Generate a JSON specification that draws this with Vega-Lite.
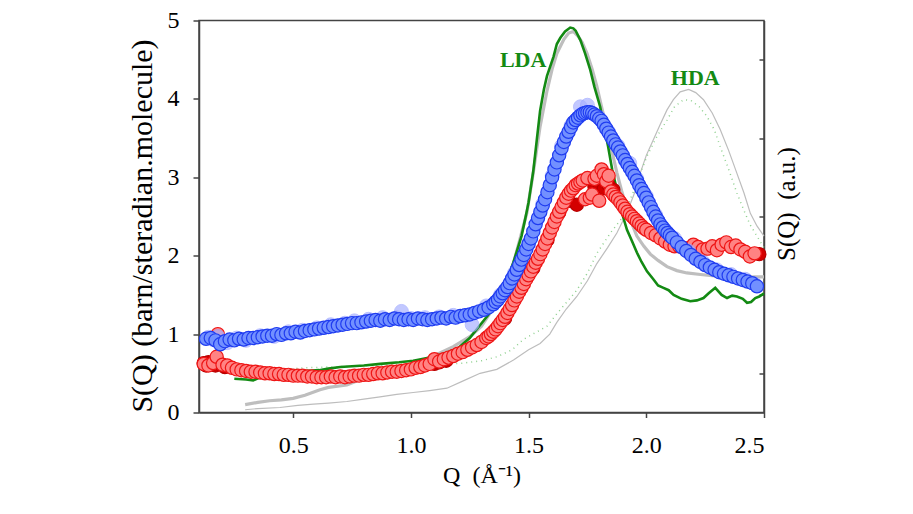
{
  "$schema": "https://vega.github.io/schema/vega-lite/v6.json",
  "width": 565,
  "height": 392,
  "autosize": {"type": "none"},
  "padding": {"left": 199, "top": 20.5, "right": 149, "bottom": 101.5},
  "background": "white",
  "config": {
    "view": {"stroke": "#444444", "strokeWidth": 1.5},
    "axis": {
      "grid": false,
      "domainColor": "#444444",
      "domainWidth": 1.5,
      "tickColor": "#444444",
      "tickWidth": 1.5,
      "labelFont": "Liberation Serif",
      "labelFontSize": 24,
      "labelColor": "#000000",
      "titleFont": "Liberation Serif",
      "titleFontWeight": "normal",
      "titleColor": "#000000"
    }
  },
  "datasets": {
    "blue": [
      {"q":0.13,"s":0.94},{"q":0.15,"s":0.95},{"q":0.17,"s":0.92},{"q":0.19,"s":0.87},{"q":0.21,"s":0.91},{"q":0.23,"s":0.93},{"q":0.25,"s":0.92},{"q":0.27,"s":0.94},{"q":0.29,"s":0.93},{"q":0.31,"s":0.95},
      {"q":0.33,"s":0.95},{"q":0.35,"s":0.96},{"q":0.37,"s":0.97},{"q":0.39,"s":0.98},{"q":0.41,"s":0.98},{"q":0.43,"s":1.00},{"q":0.45,"s":0.99},{"q":0.47,"s":1.01},{"q":0.49,"s":1.01},{"q":0.51,"s":1.03},
      {"q":0.53,"s":1.02},{"q":0.55,"s":1.04},{"q":0.57,"s":1.05},{"q":0.59,"s":1.06},{"q":0.61,"s":1.07},{"q":0.63,"s":1.08},{"q":0.65,"s":1.09},{"q":0.67,"s":1.10},{"q":0.69,"s":1.11},{"q":0.71,"s":1.12},
      {"q":0.73,"s":1.13},{"q":0.75,"s":1.14},{"q":0.77,"s":1.14},{"q":0.79,"s":1.15},{"q":0.81,"s":1.16},{"q":0.83,"s":1.17},{"q":0.85,"s":1.18},{"q":0.87,"s":1.17},{"q":0.89,"s":1.19},{"q":0.91,"s":1.18},
      {"q":0.93,"s":1.20},{"q":0.95,"s":1.19},{"q":0.97,"s":1.18},{"q":0.99,"s":1.19},{"q":1.01,"s":1.18},{"q":1.03,"s":1.20},{"q":1.05,"s":1.19},{"q":1.07,"s":1.18},{"q":1.09,"s":1.19},{"q":1.11,"s":1.20},
      {"q":1.13,"s":1.21},{"q":1.15,"s":1.20},{"q":1.17,"s":1.22},{"q":1.19,"s":1.21},{"q":1.21,"s":1.23},{"q":1.23,"s":1.24},{"q":1.25,"s":1.25},{"q":1.27,"s":1.27},{"q":1.29,"s":1.29},{"q":1.31,"s":1.31},
      {"q":1.33,"s":1.34},{"q":1.35,"s":1.38},{"q":1.36,"s":1.41},{"q":1.37,"s":1.44},{"q":1.38,"s":1.48},{"q":1.39,"s":1.52},{"q":1.40,"s":1.56},{"q":1.41,"s":1.60},{"q":1.42,"s":1.65},{"q":1.43,"s":1.71},
      {"q":1.44,"s":1.76},{"q":1.45,"s":1.82},{"q":1.46,"s":1.88},{"q":1.47,"s":1.95},{"q":1.48,"s":2.01},{"q":1.49,"s":2.08},{"q":1.50,"s":2.15},{"q":1.51,"s":2.22},{"q":1.52,"s":2.31},{"q":1.53,"s":2.40},
      {"q":1.54,"s":2.48},{"q":1.55,"s":2.56},{"q":1.56,"s":2.64},{"q":1.57,"s":2.72},{"q":1.58,"s":2.81},{"q":1.59,"s":2.90},{"q":1.60,"s":3.00},{"q":1.61,"s":3.10},{"q":1.62,"s":3.19},{"q":1.63,"s":3.28},
      {"q":1.64,"s":3.37},{"q":1.65,"s":3.45},{"q":1.66,"s":3.52},{"q":1.67,"s":3.58},{"q":1.68,"s":3.64},{"q":1.69,"s":3.70},{"q":1.70,"s":3.73},{"q":1.71,"s":3.76},{"q":1.72,"s":3.79},{"q":1.73,"s":3.81},
      {"q":1.74,"s":3.82},{"q":1.75,"s":3.83},{"q":1.76,"s":3.83},{"q":1.77,"s":3.82},{"q":1.78,"s":3.80},{"q":1.79,"s":3.78},{"q":1.80,"s":3.75},{"q":1.81,"s":3.72},{"q":1.82,"s":3.67},{"q":1.83,"s":3.62},
      {"q":1.84,"s":3.57},{"q":1.85,"s":3.52},{"q":1.86,"s":3.47},{"q":1.87,"s":3.42},{"q":1.88,"s":3.38},{"q":1.89,"s":3.33},{"q":1.90,"s":3.28},{"q":1.91,"s":3.22},{"q":1.92,"s":3.17},{"q":1.93,"s":3.12},
      {"q":1.94,"s":3.07},{"q":1.95,"s":3.02},{"q":1.96,"s":2.96},{"q":1.97,"s":2.90},{"q":1.98,"s":2.85},{"q":1.99,"s":2.80},{"q":2.00,"s":2.74},{"q":2.01,"s":2.68},{"q":2.02,"s":2.62},{"q":2.03,"s":2.56},
      {"q":2.04,"s":2.50},{"q":2.05,"s":2.45},{"q":2.06,"s":2.40},{"q":2.07,"s":2.36},{"q":2.08,"s":2.32},{"q":2.09,"s":2.29},{"q":2.10,"s":2.26},{"q":2.11,"s":2.23},
      {"q":2.13,"s":2.17},{"q":2.15,"s":2.11},{"q":2.17,"s":2.06},{"q":2.19,"s":2.01},{"q":2.21,"s":1.96},{"q":2.23,"s":1.92},{"q":2.25,"s":1.88},{"q":2.27,"s":1.85},{"q":2.29,"s":1.82},{"q":2.31,"s":1.79},
      {"q":2.33,"s":1.77},{"q":2.35,"s":1.75},{"q":2.37,"s":1.73},{"q":2.39,"s":1.71},{"q":2.41,"s":1.69},{"q":2.43,"s":1.67},{"q":2.45,"s":1.65},{"q":2.47,"s":1.61}
    ],
    "blueHalo": [
      {"q":0.14,"s":0.96},{"q":0.16,"s":0.93},{"q":0.18,"s":0.97},{"q":0.22,"s":0.89},{"q":0.26,"s":0.95},{"q":0.30,"s":0.92},{"q":0.36,"s":0.98},{"q":0.42,"s":0.97},{"q":0.48,"s":1.03},{"q":0.54,"s":1.05},
      {"q":0.60,"s":1.08},{"q":0.66,"s":1.12},{"q":0.72,"s":1.14},{"q":0.76,"s":1.17},{"q":0.82,"s":1.19},{"q":0.88,"s":1.21},{"q":0.94,"s":1.21},{"q":0.96,"s":1.29},{"q":1.00,"s":1.20},{"q":1.06,"s":1.21},
      {"q":1.12,"s":1.22},{"q":1.18,"s":1.24},{"q":1.26,"s":1.12},{"q":1.32,"s":1.36},{"q":1.38,"s":1.50},{"q":1.44,"s":1.78},{"q":1.50,"s":2.16},{"q":1.56,"s":2.66},{"q":1.60,"s":3.02},{"q":1.64,"s":3.40},
      {"q":1.68,"s":3.66},{"q":1.72,"s":3.90},{"q":1.75,"s":3.92},{"q":1.80,"s":3.76},{"q":1.84,"s":3.58},{"q":1.88,"s":3.40},{"q":1.93,"s":3.18},{"q":1.96,"s":2.98},{"q":2.00,"s":2.76},{"q":2.04,"s":2.52},
      {"q":2.08,"s":2.33},{"q":2.12,"s":2.22},{"q":2.18,"s":2.06},{"q":2.24,"s":1.92},{"q":2.30,"s":1.82},{"q":2.36,"s":1.76},{"q":2.42,"s":1.70},{"q":2.46,"s":1.64}
    ],
    "red": [
      {"q":0.12,"s":0.62},{"q":0.14,"s":0.60},{"q":0.16,"s":0.63},{"q":0.175,"s":0.71},{"q":0.18,"s":1.00},{"q":0.20,"s":0.61},{"q":0.22,"s":0.60},{"q":0.24,"s":0.57},{"q":0.26,"s":0.55},{"q":0.28,"s":0.54},
      {"q":0.30,"s":0.53},{"q":0.32,"s":0.52},{"q":0.34,"s":0.52},{"q":0.36,"s":0.51},{"q":0.38,"s":0.50},{"q":0.40,"s":0.50},{"q":0.42,"s":0.49},{"q":0.44,"s":0.49},{"q":0.46,"s":0.48},{"q":0.48,"s":0.48},
      {"q":0.50,"s":0.47},{"q":0.52,"s":0.47},{"q":0.54,"s":0.47},{"q":0.56,"s":0.46},{"q":0.58,"s":0.46},{"q":0.60,"s":0.45},{"q":0.62,"s":0.45},{"q":0.64,"s":0.45},{"q":0.66,"s":0.46},{"q":0.68,"s":0.45},
      {"q":0.70,"s":0.46},{"q":0.72,"s":0.45},{"q":0.74,"s":0.46},{"q":0.76,"s":0.47},{"q":0.78,"s":0.47},{"q":0.80,"s":0.48},{"q":0.82,"s":0.48},{"q":0.84,"s":0.49},{"q":0.86,"s":0.50},{"q":0.88,"s":0.50},
      {"q":0.90,"s":0.51},{"q":0.92,"s":0.52},{"q":0.94,"s":0.52},{"q":0.96,"s":0.53},{"q":0.98,"s":0.54},{"q":1.00,"s":0.55},{"q":1.02,"s":0.57},{"q":1.04,"s":0.58},{"q":1.06,"s":0.60},{"q":1.08,"s":0.62},
      {"q":1.10,"s":0.68},{"q":1.12,"s":0.65},{"q":1.14,"s":0.68},{"q":1.16,"s":0.70},{"q":1.18,"s":0.72},{"q":1.20,"s":0.75},{"q":1.22,"s":0.77},{"q":1.24,"s":0.80},{"q":1.26,"s":0.83},{"q":1.28,"s":0.86},
      {"q":1.30,"s":0.90},{"q":1.32,"s":0.95},{"q":1.33,"s":0.97},{"q":1.34,"s":1.00},{"q":1.35,"s":1.03},{"q":1.36,"s":1.06},{"q":1.37,"s":1.10},{"q":1.38,"s":1.14},{"q":1.39,"s":1.18},{"q":1.40,"s":1.22},
      {"q":1.41,"s":1.27},{"q":1.42,"s":1.32},{"q":1.43,"s":1.37},{"q":1.44,"s":1.43},{"q":1.45,"s":1.48},{"q":1.46,"s":1.54},{"q":1.47,"s":1.59},{"q":1.48,"s":1.64},{"q":1.49,"s":1.70},{"q":1.50,"s":1.75},
      {"q":1.51,"s":1.80},{"q":1.52,"s":1.86},{"q":1.53,"s":1.91},{"q":1.54,"s":1.96},{"q":1.55,"s":2.02},{"q":1.56,"s":2.08},{"q":1.57,"s":2.15},{"q":1.58,"s":2.22},{"q":1.59,"s":2.29},{"q":1.60,"s":2.36},
      {"q":1.61,"s":2.43},{"q":1.62,"s":2.50},{"q":1.63,"s":2.56},{"q":1.64,"s":2.62},{"q":1.65,"s":2.68},{"q":1.66,"s":2.74},{"q":1.67,"s":2.79},{"q":1.68,"s":2.83},{"q":1.69,"s":2.86},{"q":1.70,"s":2.90},
      {"q":1.71,"s":2.92},{"q":1.72,"s":2.94},{"q":1.73,"s":2.96},{"q":1.74,"s":2.72},{"q":1.75,"s":2.99},{"q":1.76,"s":2.74},{"q":1.77,"s":2.78},{"q":1.78,"s":2.98},{"q":1.79,"s":3.02},{"q":1.80,"s":2.70},
      {"q":1.81,"s":3.10},{"q":1.82,"s":3.04},{"q":1.83,"s":2.95},{"q":1.84,"s":3.02},{"q":1.85,"s":2.82},{"q":1.86,"s":2.78},{"q":1.87,"s":2.75},{"q":1.88,"s":2.72},{"q":1.89,"s":2.68},{"q":1.90,"s":2.64},
      {"q":1.91,"s":2.60},{"q":1.92,"s":2.56},{"q":1.93,"s":2.53},{"q":1.94,"s":2.50},{"q":1.95,"s":2.47},{"q":1.96,"s":2.44},{"q":1.97,"s":2.41},{"q":1.98,"s":2.38},{"q":1.99,"s":2.35},{"q":2.00,"s":2.33},
      {"q":2.02,"s":2.29},{"q":2.04,"s":2.26},{"q":2.06,"s":2.22},{"q":2.08,"s":2.18},{"q":2.10,"s":2.14},{"q":2.12,"s":2.12},{"q":2.14,"s":2.12},{"q":2.16,"s":2.10},{"q":2.18,"s":2.09},{"q":2.20,"s":2.14},
      {"q":2.22,"s":2.11},{"q":2.24,"s":2.08},{"q":2.26,"s":2.09},{"q":2.28,"s":2.12},{"q":2.30,"s":2.07},{"q":2.32,"s":2.14},{"q":2.34,"s":2.17},{"q":2.36,"s":2.11},{"q":2.38,"s":2.13},{"q":2.40,"s":2.08},
      {"q":2.42,"s":2.05},{"q":2.44,"s":1.99},{"q":2.46,"s":2.03}
    ],
    "redDark": [
      {"q":0.12,"s":0.63},{"q":0.13,"s":0.60},{"q":0.14,"s":0.64},{"q":0.15,"s":0.61},{"q":0.17,"s":0.60},{"q":0.19,"s":0.62},{"q":0.21,"s":0.58},{"q":1.10,"s":0.62},{"q":1.12,"s":0.64},{"q":1.15,"s":0.66},
      {"q":1.40,"s":1.20},{"q":1.45,"s":1.50},{"q":1.52,"s":1.84},{"q":1.58,"s":2.20},{"q":1.63,"s":2.55},{"q":1.67,"s":2.70},{"q":1.705,"s":2.65},{"q":1.78,"s":2.88},{"q":1.80,"s":2.92},{"q":1.82,"s":2.86},
      {"q":1.84,"s":2.90},{"q":1.86,"s":2.84},{"q":2.48,"s":2.02}
    ],
    "lda": [
      {"q":0.25,"s":0.43},{"q":0.30,"s":0.42},{"q":0.33,"s":0.41},{"q":0.36,"s":0.45},{"q":0.40,"s":0.47},{"q":0.45,"s":0.50},{"q":0.50,"s":0.52},{"q":0.55,"s":0.53},{"q":0.61,"s":0.54},{"q":0.65,"s":0.56},
      {"q":0.70,"s":0.58},{"q":0.75,"s":0.59},{"q":0.80,"s":0.60},{"q":0.87,"s":0.62},{"q":0.95,"s":0.64},{"q":1.01,"s":0.66},{"q":1.08,"s":0.70},{"q":1.15,"s":0.76},{"q":1.20,"s":0.82},{"q":1.25,"s":0.95},
      {"q":1.29,"s":1.10},{"q":1.33,"s":1.25},{"q":1.365,"s":1.40},{"q":1.40,"s":1.62},{"q":1.435,"s":1.91},{"q":1.47,"s":2.25},{"q":1.485,"s":2.46},{"q":1.50,"s":2.68},{"q":1.52,"s":3.08},{"q":1.535,"s":3.48},
      {"q":1.549,"s":3.85},{"q":1.565,"s":4.12},{"q":1.578,"s":4.29},{"q":1.606,"s":4.54},{"q":1.62,"s":4.70},{"q":1.635,"s":4.78},{"q":1.655,"s":4.86},{"q":1.677,"s":4.91},{"q":1.69,"s":4.90},{"q":1.70,"s":4.87},
      {"q":1.72,"s":4.75},{"q":1.74,"s":4.58},{"q":1.762,"s":4.37},{"q":1.78,"s":4.15},{"q":1.804,"s":3.90},{"q":1.82,"s":3.66},{"q":1.838,"s":3.39},{"q":1.855,"s":3.10},{"q":1.875,"s":2.84},{"q":1.895,"s":2.56},
      {"q":1.918,"s":2.33},{"q":1.94,"s":2.18},{"q":1.96,"s":2.04},{"q":1.98,"s":1.92},{"q":2.003,"s":1.80},{"q":2.03,"s":1.70},{"q":2.05,"s":1.62},{"q":2.073,"s":1.59},{"q":2.095,"s":1.56},{"q":2.116,"s":1.50},
      {"q":2.15,"s":1.45},{"q":2.187,"s":1.42},{"q":2.215,"s":1.43},{"q":2.243,"s":1.46},{"q":2.265,"s":1.52},{"q":2.293,"s":1.59},{"q":2.32,"s":1.50},{"q":2.343,"s":1.46},{"q":2.365,"s":1.49},{"q":2.385,"s":1.48},
      {"q":2.41,"s":1.45},{"q":2.428,"s":1.40},{"q":2.445,"s":1.41},{"q":2.463,"s":1.46},{"q":2.48,"s":1.48},{"q":2.50,"s":1.52}
    ],
    "ldaFit": [
      {"q":0.296,"s":0.10},{"q":0.35,"s":0.13},{"q":0.40,"s":0.15},{"q":0.45,"s":0.16},{"q":0.50,"s":0.18},{"q":0.55,"s":0.22},{"q":0.614,"s":0.29},{"q":0.65,"s":0.32},{"q":0.728,"s":0.35},{"q":0.77,"s":0.40},
      {"q":0.813,"s":0.46},{"q":0.87,"s":0.52},{"q":0.95,"s":0.58},{"q":1.03,"s":0.64},{"q":1.11,"s":0.74},{"q":1.18,"s":0.84},{"q":1.252,"s":0.97},{"q":1.30,"s":1.10},{"q":1.337,"s":1.27},{"q":1.37,"s":1.42},
      {"q":1.408,"s":1.65},{"q":1.44,"s":1.95},{"q":1.464,"s":2.22},{"q":1.493,"s":2.55},{"q":1.52,"s":3.06},{"q":1.549,"s":3.65},{"q":1.578,"s":4.10},{"q":1.60,"s":4.38},{"q":1.62,"s":4.58},{"q":1.65,"s":4.76},
      {"q":1.67,"s":4.84},{"q":1.69,"s":4.86},{"q":1.71,"s":4.80},{"q":1.728,"s":4.72},{"q":1.748,"s":4.58},{"q":1.77,"s":4.38},{"q":1.79,"s":4.16},{"q":1.81,"s":3.90},{"q":1.833,"s":3.61},{"q":1.855,"s":3.32},
      {"q":1.875,"s":3.06},{"q":1.895,"s":2.83},{"q":1.918,"s":2.60},{"q":1.94,"s":2.40},{"q":1.96,"s":2.25},{"q":1.99,"s":2.12},{"q":2.017,"s":2.02},{"q":2.05,"s":1.94},{"q":2.088,"s":1.86},{"q":2.13,"s":1.81},
      {"q":2.172,"s":1.78},{"q":2.23,"s":1.76},{"q":2.30,"s":1.74},{"q":2.40,"s":1.73},{"q":2.50,"s":1.73}
    ],
    "hda": [
      {"q":0.296,"s":0.035},{"q":0.35,"s":0.05},{"q":0.444,"s":0.064},{"q":0.52,"s":0.09},{"q":0.586,"s":0.107},{"q":0.65,"s":0.12},{"q":0.728,"s":0.14},{"q":0.80,"s":0.17},{"q":0.869,"s":0.20},{"q":0.94,"s":0.23},
      {"q":1.01,"s":0.255},{"q":1.08,"s":0.28},{"q":1.153,"s":0.31},{"q":1.22,"s":0.40},{"q":1.294,"s":0.50},{"q":1.365,"s":0.55},{"q":1.436,"s":0.67},{"q":1.50,"s":0.80},{"q":1.549,"s":0.88},{"q":1.59,"s":1.00},
      {"q":1.62,"s":1.15},{"q":1.66,"s":1.32},{"q":1.705,"s":1.48},{"q":1.75,"s":1.68},{"q":1.79,"s":1.90},{"q":1.835,"s":2.10},{"q":1.875,"s":2.29},{"q":1.918,"s":2.55},{"q":1.95,"s":2.80},{"q":1.974,"s":3.05},
      {"q":2.00,"s":3.28},{"q":2.03,"s":3.48},{"q":2.06,"s":3.68},{"q":2.088,"s":3.86},{"q":2.115,"s":3.99},{"q":2.144,"s":4.09},{"q":2.18,"s":4.12},{"q":2.21,"s":4.08},{"q":2.243,"s":3.99},{"q":2.28,"s":3.82},
      {"q":2.314,"s":3.61},{"q":2.35,"s":3.34},{"q":2.385,"s":3.05},{"q":2.415,"s":2.80},{"q":2.442,"s":2.54},{"q":2.47,"s":2.38},{"q":2.50,"s":2.25}
    ],
    "hdaDotted": [
      {"q":0.45,"s":0.55},{"q":0.55,"s":0.57},{"q":0.65,"s":0.58},{"q":0.75,"s":0.59},{"q":0.85,"s":0.60},{"q":0.95,"s":0.61},{"q":1.05,"s":0.62},{"q":1.15,"s":0.62},{"q":1.222,"s":0.63},{"q":1.30,"s":0.66},
      {"q":1.365,"s":0.71},{"q":1.43,"s":0.80},{"q":1.477,"s":0.93},{"q":1.53,"s":1.02},{"q":1.578,"s":1.10},{"q":1.62,"s":1.26},{"q":1.66,"s":1.40},{"q":1.705,"s":1.56},{"q":1.75,"s":1.78},{"q":1.79,"s":2.03},
      {"q":1.85,"s":2.30},{"q":1.902,"s":2.50},{"q":1.95,"s":2.85},{"q":2.003,"s":3.27},{"q":2.045,"s":3.52},{"q":2.088,"s":3.73},{"q":2.12,"s":3.90},{"q":2.158,"s":3.99},{"q":2.19,"s":3.98},{"q":2.225,"s":3.90},
      {"q":2.257,"s":3.78},{"q":2.29,"s":3.60},{"q":2.314,"s":3.39},{"q":2.35,"s":3.10},{"q":2.385,"s":2.80},{"q":2.413,"s":2.59},{"q":2.44,"s":2.40},{"q":2.47,"s":2.25},{"q":2.50,"s":2.10}
    ],
    "labels": [
      {"q":1.477,"s":4.49,"label":"LDA"},
      {"q":2.208,"s":4.27,"label":"HDA"}
    ]
  },
  "layer": [
    {
      "layer": [
        {
          "data": {"name": "hda"},
          "mark": {"type": "line", "color": "#BDBDBD", "strokeWidth": 1.2},
          "encoding": {
            "x": {"field": "q", "type": "quantitative"},
            "y": {"field": "s", "type": "quantitative"}
          }
        },
        {
          "data": {"name": "hdaDotted"},
          "mark": {"type": "line", "color": "#8FD08F", "strokeWidth": 1.5, "strokeDash": [1, 4]},
          "encoding": {
            "x": {"field": "q", "type": "quantitative"},
            "y": {"field": "s", "type": "quantitative"}
          }
        }
      ],
      "encoding": {
        "x": {"field": "q", "type": "quantitative", "scale": {"domain": [0.1, 2.5], "nice": false}, "axis": null},
        "y": {
          "field": "s", "type": "quantitative",
          "scale": {"domain": [0, 5], "nice": false},
          "axis": {
            "orient": "right",
            "values": [0.5, 1.5, 2.5, 3.5, 4.5],
            "labels": false,
            "tickSize": -5,
            "title": "S(Q)\u00a0\u00a0(a.u.)",
            "titleFontSize": 25,
            "titleAngle": -90,
            "titleBaseline": "top",
            "titlePadding": 10,
            "titleY": 183
          }
        }
      }
    },
    {
      "layer": [
        {
          "data": {"name": "ldaFit"},
          "mark": {"type": "line", "color": "#BEBEBE", "strokeWidth": 3.2},
          "encoding": {
            "x": {"field": "q", "type": "quantitative"},
            "y": {"field": "s", "type": "quantitative"}
          }
        },
        {
          "data": {"name": "lda"},
          "mark": {"type": "line", "color": "#138A13", "strokeWidth": 2.6},
          "encoding": {
            "x": {"field": "q", "type": "quantitative"},
            "y": {"field": "s", "type": "quantitative"}
          }
        },
        {
          "data": {"name": "redDark"},
          "mark": {"type": "point", "shape": "circle", "filled": true, "size": 175, "fill": "#D40000", "stroke": "#B80000", "strokeWidth": 1.2, "opacity": 1},
          "encoding": {
            "x": {"field": "q", "type": "quantitative"},
            "y": {"field": "s", "type": "quantitative"}
          }
        },
        {
          "data": {"name": "red"},
          "mark": {"type": "point", "shape": "circle", "filled": true, "size": 175, "fill": "#FF8383", "stroke": "#EE1515", "strokeWidth": 1.2, "opacity": 1},
          "encoding": {
            "x": {"field": "q", "type": "quantitative"},
            "y": {"field": "s", "type": "quantitative"}
          }
        },
        {
          "data": {"name": "blueHalo"},
          "mark": {"type": "point", "shape": "circle", "filled": true, "size": 190, "fill": "#A9B2FF", "stroke": "#9CA6FF", "strokeWidth": 1, "opacity": 0.7},
          "encoding": {
            "x": {"field": "q", "type": "quantitative"},
            "y": {"field": "s", "type": "quantitative"}
          }
        },
        {
          "data": {"name": "blue"},
          "mark": {"type": "point", "shape": "circle", "filled": true, "size": 175, "fill": "#7290FF", "stroke": "#1F3CF0", "strokeWidth": 1.2, "opacity": 1},
          "encoding": {
            "x": {"field": "q", "type": "quantitative"},
            "y": {"field": "s", "type": "quantitative"}
          }
        },
        {
          "data": {"name": "labels"},
          "mark": {"type": "text", "font": "Liberation Serif", "fontWeight": "bold", "fontSize": 22, "color": "#138A13", "align": "center", "baseline": "middle"},
          "encoding": {
            "x": {"field": "q", "type": "quantitative"},
            "y": {"field": "s", "type": "quantitative"},
            "text": {"field": "label"}
          }
        }
      ],
      "encoding": {
        "x": {
          "field": "q", "type": "quantitative",
          "scale": {"domain": [0.1, 2.5], "nice": false},
          "axis": {
            "values": [0.5, 1.0, 1.5, 2.0, 2.5],
            "format": ".1f",
            "tickSize": 5,
            "labelPadding": 16,
            "title": "Q\u00a0\u00a0(Å⁻¹)",
            "titleFontSize": 24,
            "titlePadding": 6
          }
        },
        "y": {
          "field": "s", "type": "quantitative",
          "scale": {"domain": [0, 5], "nice": false},
          "axis": {
            "values": [0, 1, 2, 3, 4, 5],
            "tickSize": 6,
            "labelPadding": 14,
            "title": "S(Q) (barn/steradian.molecule)",
            "titleFontSize": 30,
            "titlePadding": 10,
            "titleY": 205
          }
        }
      }
    }
  ],
  "resolve": {"scale": {"y": "independent", "x": "independent"}}
}
